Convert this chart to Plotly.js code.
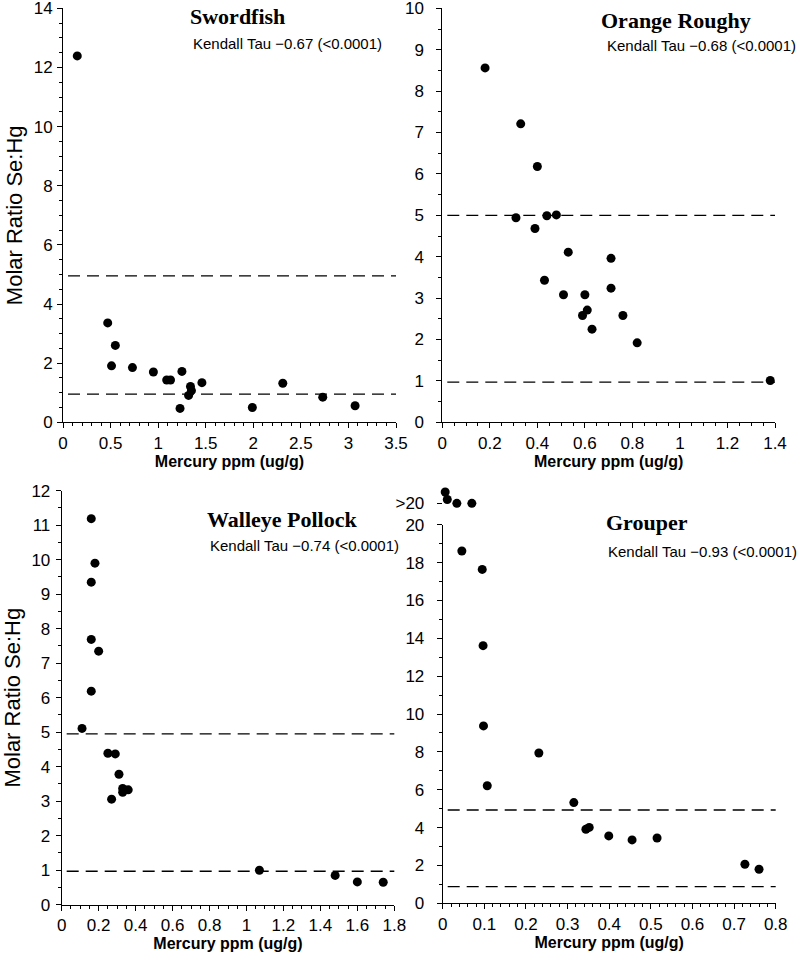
<!DOCTYPE html>
<html>
<head>
<meta charset="utf-8">
<script src="https://cdn.plot.ly/plotly-3.0.1.min.js"></script>
<style>
  html, body { margin: 0; padding: 0; background: #fff; }
  #chart { width: 800px; height: 960px; }
</style>
</head>
<body>
<div id="chart"></div>
<script>
// ---- data ----
const swordfishHg = [0.15, 0.47, 0.55, 0.51, 0.73, 0.95, 1.09, 1.13, 1.25, 1.23, 1.34, 1.35, 1.32, 1.46, 1.99, 2.31, 2.73, 3.07];
const swordfishRatio = [12.39, 3.36, 2.60, 1.91, 1.85, 1.70, 1.43, 1.43, 1.72, 0.47, 1.21, 1.07, 0.91, 1.34, 0.50, 1.32, 0.85, 0.56];

const roughyHg = [0.18, 0.33, 0.40, 0.31, 0.44, 0.48, 0.39, 0.53, 0.71, 0.43, 0.51, 0.60, 0.71, 0.61, 0.59, 0.76, 0.63, 0.82, 1.38];
const roughyRatio = [8.56, 7.21, 6.18, 4.94, 4.99, 5.01, 4.68, 4.11, 3.96, 3.43, 3.08, 3.08, 3.24, 2.71, 2.58, 2.58, 2.25, 1.92, 1.01];

const pollockHg = [0.16, 0.18, 0.16, 0.16, 0.20, 0.16, 0.11, 0.25, 0.29, 0.31, 0.27, 0.33, 0.33, 0.36, 1.07, 1.48, 1.60, 1.74];
const pollockRatio = [11.19, 9.90, 9.35, 7.69, 7.35, 6.19, 5.11, 4.39, 4.37, 3.78, 3.06, 3.37, 3.26, 3.33, 1.00, 0.85, 0.66, 0.65];

const grouperHg = [0.046, 0.095, 0.097, 0.098, 0.107, 0.231, 0.315, 0.344, 0.352, 0.399, 0.455, 0.515, 0.726, 0.760];
const grouperRatio = [18.61, 17.64, 13.61, 9.37, 6.21, 7.94, 5.32, 3.91, 4.01, 3.56, 3.35, 3.45, 2.06, 1.80];
// samples with ratio above 20 (drawn on the broken ">20" band)
const grouperHighHg = [0.006, 0.011, 0.034, 0.070];
const grouperHighRatio = [21.7, 21.3, 21.1, 21.1];

// dashed reference levels (upper, lower) per panel
const swordfishLevels = [4.95, 0.95];
const roughyLevels = [5.0, 0.97];
const pollockLevels = [4.95, 0.97];
const grouperLevels = [4.93, 0.88];

const titles = ["Swordfish", "Orange Roughy", "Walleye Pollock", "Grouper"];
const tauTexts = [
    "Kendall Tau \u22120.67 (<0.0001)",
    "Kendall Tau \u22120.68 (<0.0001)",
    "Kendall Tau \u22120.74 (<0.0001)",
    "Kendall Tau \u22120.93 (<0.0001)",
];

// ---- helpers ----
const W = 800, H = 960;
const px = (v) => v / W;          // pixel -> paper x
const py = (v) => 1 - v / H;      // pixel -> paper y

const FONT = "Liberation Sans, Arial, sans-serif";
const SERIF = "Liberation Serif, Times New Roman, serif";

function dots(x, y, xa, ya) {
    return {
        x, y,
        xaxis: xa, yaxis: ya,
        type: "scatter",
        mode: "markers",
        cliponaxis: false,
        hoverinfo: "x+y",
        marker: { color: "#000", size: 9 },
    };
}

function xAxis(domain, range, dtick, minor, anchor) {
    return {
        domain, range, dtick, anchor,
        showgrid: false, zeroline: false,
        showline: true, linecolor: "#000", linewidth: 1,
        ticks: "outside", ticklen: 5, tickcolor: "#000",
        ticklabeloverflow: "allow",
        tickfont: { family: FONT, size: 17, color: "#000" },
        minor: { dtick: minor, ticks: "outside", ticklen: 3, tickcolor: "#000" },
        title: {
            text: "Mercury ppm (ug/g)",
            font: { family: FONT, size: 16, color: "#000", weight: "bold" },
            standoff: 2,
        },
    };
}

function yAxis(domain, range, dtick, minor, anchor, withTitle, pad) {
    return {
        domain, range, dtick, anchor,
        showgrid: false, zeroline: false,
        showline: true, linecolor: "#000", linewidth: 1,
        ticks: "outside", ticklen: 5, tickcolor: "#000",
        ticklabelstandoff: pad,
        ticklabeloverflow: "allow",
        tickfont: { family: FONT, size: 17, color: "#000" },
        minor: { dtick: minor, ticks: "outside", ticklen: 3, tickcolor: "#000" },
        title: withTitle ? {
            text: "Molar Ratio Se:Hg",
            font: { family: FONT, size: 22, color: "#000" },
            standoff: 4,
        } : { text: "" },
    };
}

function levelLines(levels, xa, ya) {
    return levels.map((v) => ({
        type: "line",
        xref: xa + " domain", yref: ya,
        x0: 0.015, x1: 1, y0: v, y1: v,
        line: { color: "#000", width: 1.3, dash: "12px,7px" },
    }));
}

function label(text, x, y, size, family, bold) {
    return {
        text, x: px(x), y: py(y),
        xref: "paper", yref: "paper",
        xanchor: "center", yanchor: "middle",
        showarrow: false,
        font: { family, size, color: "#000", weight: bold ? "bold" : "normal" },
    };
}

// ---- traces ----
const data = [
    dots(swordfishHg, swordfishRatio, "x", "y"),
    dots(roughyHg, roughyRatio, "x2", "y2"),
    dots(pollockHg, pollockRatio, "x3", "y3"),
    dots(grouperHg, grouperRatio, "x4", "y4"),
    dots(grouperHighHg, grouperHighRatio, "x4", "y5"),
];

const layout = {
    width: W, height: H,
    margin: { l: 0, r: 0, t: 0, b: 0 },
    paper_bgcolor: "#fff",
    plot_bgcolor: "#fff",
    showlegend: false,
    font: { family: FONT, color: "#000" },

    xaxis: xAxis([px(63), px(396)], [0, 3.5], 0.5, 0.1, "y"),
    yaxis: yAxis([py(422.3), py(8.3)], [0, 14.0001], 2, 0.5, "x", true, 1),

    xaxis2: xAxis([px(442.3), px(775)], [0, 1.4], 0.2, 0.05, "y2"),
    yaxis2: yAxis([py(422.3), py(8.3)], [0, 10.0001], 1, 0.5, "x2", false, 9),

    xaxis3: xAxis([px(61.7), px(394.3)], [0, 1.8], 0.2, 0.05, "y3"),
    yaxis3: yAxis([py(904.7), py(490.7)], [0, 12.0001], 1, 0.5, "x3", true, 2),

    xaxis4: xAxis([px(442.7), px(775.7)], [0, 0.8], 0.1, 0.02, "y4"),
    yaxis4: yAxis([py(903.3), py(524.7)], [0, 20.0001], 2, 1, "x4", false, 9),

    // short band above the axis break for ratios > 20
    yaxis5: {
        domain: [py(510.9), py(480.6)], range: [20.7, 22.3], anchor: "x4",
        showgrid: false, zeroline: false, showline: false,
        tickvals: [21.1], ticktext: [">20"],
        ticks: "outside", ticklen: 5, tickcolor: "#000",
        ticklabelstandoff: 9,
        ticklabeloverflow: "allow",
        tickfont: { family: FONT, size: 17, color: "#000" },
    },

    shapes: [
        ...levelLines(swordfishLevels, "x", "y"),
        ...levelLines(roughyLevels, "x2", "y2"),
        ...levelLines(pollockLevels, "x3", "y3"),
        ...levelLines(grouperLevels, "x4", "y4"),
    ],

    annotations: [
        label(titles[0], 237, 17, 22, SERIF, true),
        label(tauTexts[0], 287, 43, 15, FONT, false),
        label(titles[1], 676, 20, 22, SERIF, true),
        label(tauTexts[1], 701, 45, 15, FONT, false),
        label(titles[2], 282, 519, 22, SERIF, true),
        label(tauTexts[2], 304, 545, 15, FONT, false),
        label(titles[3], 647, 522, 22, SERIF, true),
        label(tauTexts[3], 702, 551, 15, FONT, false),
    ],
};

Plotly.newPlot("chart", data, layout, { displayModeBar: false, staticPlot: true });
</script>
</body>
</html>
